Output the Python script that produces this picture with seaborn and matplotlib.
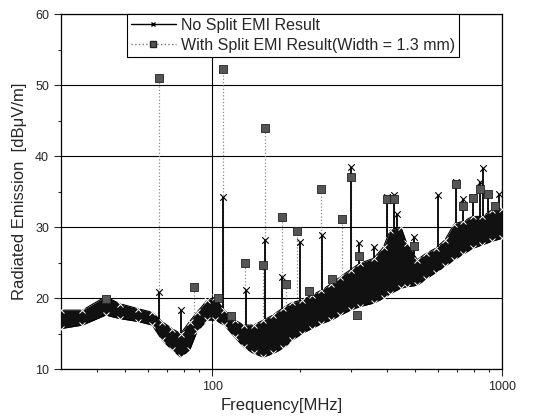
import numpy as np
import matplotlib
matplotlib.use('Agg')
import matplotlib.pyplot as plt
import seaborn as sns
from matplotlib.lines import Line2D
from matplotlib.ticker import FixedLocator, MultipleLocator, NullFormatter

# noise band of the "No Split" spectrum (envelope)
band_freq = [30, 35.6, 42.8, 48, 55.5, 62, 67, 72.6, 77.7, 83.5, 88.5, 96, 102, 110,
             119.5, 128.5, 138.8, 150, 162, 175, 189, 204, 220, 238, 257, 277, 300,
             323, 361, 390, 411, 448, 469, 510, 547, 590, 636, 685, 735, 792, 855,
             922, 1000]
band_high = [18.3, 18.3, 20.2, 19.2, 18.5, 18.0, 16.7, 15.7, 15.0, 16.7, 18.0, 19.7,
             20.1, 18.3, 16.9, 16.2, 16.2, 16.9, 17.6, 18.6, 19.4, 19.7, 20.4, 21.1,
             22.0, 23.0, 24.0, 24.9, 25.6, 27.2, 29.6, 30.0, 27.7, 25.4, 26.3, 27.0,
             28.2, 30.5, 30.8, 31.5, 31.5, 32.4, 32.6]
band_low = [15.7, 16.2, 17.6, 17.1, 16.7, 16.2, 14.1, 12.7, 11.7, 12.7, 15.3, 16.9,
            16.9, 16.2, 14.5, 13.1, 12.2, 11.7, 12.2, 12.9, 14.1, 15.0, 15.7, 16.4,
            16.9, 17.6, 18.3, 18.8, 19.3, 20.0, 20.6, 21.4, 21.6, 21.8, 22.7, 23.6,
            24.5, 25.4, 26.2, 27.0, 27.5, 28.0, 28.4]

# single-frequency peaks of the "No Split" result
spike_freq = [65.4, 78.2, 108.8, 130.9, 152, 174, 200.6, 238.8, 300.5, 320.9, 361,
              401.6, 423, 434.6, 495.6, 599.6, 695, 736, 797, 840, 863, 897.5, 976]
spike_peak = [20.9, 18.3, 34.3, 21.1, 28.2, 23.0, 27.9, 28.9, 38.5, 27.7, 27.2, 34.3,
              34.5, 31.9, 28.6, 34.5, 36.4, 33.9, 34.3, 36.4, 38.3, 34.7, 34.7]

# "With Split" result peaks (square markers)
split_freq = [42.9, 65.4, 86.5, 104.6, 108.8, 116, 129.8, 149.3, 152.5, 174, 179.6,
              196, 216, 238.2, 259.8, 281.2, 300.5, 315, 320.9, 401.6, 423, 495.6,
              695, 732, 797, 840, 897.5, 946]
split_peak = [19.85, 51.0, 21.5, 20.0, 52.25, 17.5, 25.0, 24.65, 44.0, 31.45, 22.0,
              29.4, 21.0, 35.35, 22.7, 31.2, 37.1, 17.6, 25.9, 33.9, 34.0, 27.4, 36.0,
              33.0, 34.1, 35.3, 34.65, 33.0]

labels = ['No Split EMI Result', 'With Split EMI Result(Width = 1.3 mm)']

sns.set_style('ticks')
plt.rcParams['font.family'] = ['Liberation Sans', 'DejaVu Sans']

fig = plt.figure(figsize=(5.34, 4.18), dpi=100)
ax = fig.add_axes([0.114, 0.117, 0.826, 0.8495])
ax.set_xscale('log')

# gridlines
ax.grid(True, which='major', color='k', lw=0.8)
ax.set_axisbelow(True)

# split spikes (dotted gray) from band top to the square
lf = np.log10(band_freq)
base_s = np.interp(np.log10(split_freq), lf, band_high)
sp = np.array(split_peak)
sf = np.array(split_freq)
m = sp > base_s
ax.vlines(sf[m], base_s[m], sp[m], colors='#8a8a8a', lw=0.9, linestyles=':', zorder=2)

# noise band
ax.fill_between(band_freq, band_low, band_high, color='#111111', lw=0, zorder=3)
sns.lineplot(x=band_freq, y=band_high, color='k', lw=0.8, marker='x', markersize=4,
             markeredgewidth=0.7, ax=ax, zorder=3)
sns.lineplot(x=band_freq, y=band_low, color='k', lw=0.8, marker='x', markersize=4,
             markeredgewidth=0.7, ax=ax, zorder=3)

# black spikes
base_k = np.interp(np.log10(spike_freq), lf, band_high)
ax.vlines(spike_freq, base_k, spike_peak, colors='k', lw=1.3, zorder=4)
sns.scatterplot(x=spike_freq, y=spike_peak, marker='x', color='k', s=22,
                linewidth=0.8, ax=ax, zorder=5)

# split squares
sns.scatterplot(x=split_freq, y=split_peak, marker='s', color='#555555', s=26,
                edgecolor='#222222', linewidth=0.6, ax=ax, zorder=6)

ax.set_xlim(30, 1000)
ax.set_ylim(10, 60)
ax.xaxis.set_major_locator(FixedLocator([100, 1000]))
ax.set_xticklabels(['100', '1000'])
ax.xaxis.set_minor_locator(FixedLocator([40, 50, 60, 70, 80, 90, 200, 300, 400, 500,
                                         600, 700, 800, 900]))
ax.xaxis.set_minor_formatter(NullFormatter())
ax.yaxis.set_major_locator(MultipleLocator(10))
ax.yaxis.set_minor_locator(MultipleLocator(5))
ax.tick_params(axis='both', which='major', labelsize=9, length=5, width=0.8, direction='out')
ax.tick_params(axis='both', which='minor', length=2.5, width=0.8, direction='out')

for s in ax.spines.values():
    s.set_color('k')
    s.set_linewidth(0.9)

ax.set_xlabel('Frequency[MHz]', fontsize=12, labelpad=4)
ax.set_ylabel('Radiated Emission  [dBμV/m]', fontsize=12, labelpad=6)

h1 = Line2D([], [], color='k', lw=1, marker='x', markersize=3, markevery=[0])
h2 = Line2D([], [], color='#777777', lw=1, ls=':', marker='s', markersize=4,
            markerfacecolor='#555555', markeredgecolor='#222222', markevery=[0])
leg = ax.legend([h1, h2], labels, loc='upper left', bbox_to_anchor=(0.15, 1.0),
                fontsize=11.5, frameon=True, fancybox=False, edgecolor='k',
                framealpha=1, handlelength=2.8, borderpad=0.25, borderaxespad=0,
                labelspacing=0.3, handletextpad=0.3)
leg.get_frame().set_linewidth(0.8)

fig.savefig('out.png', dpi=100)
